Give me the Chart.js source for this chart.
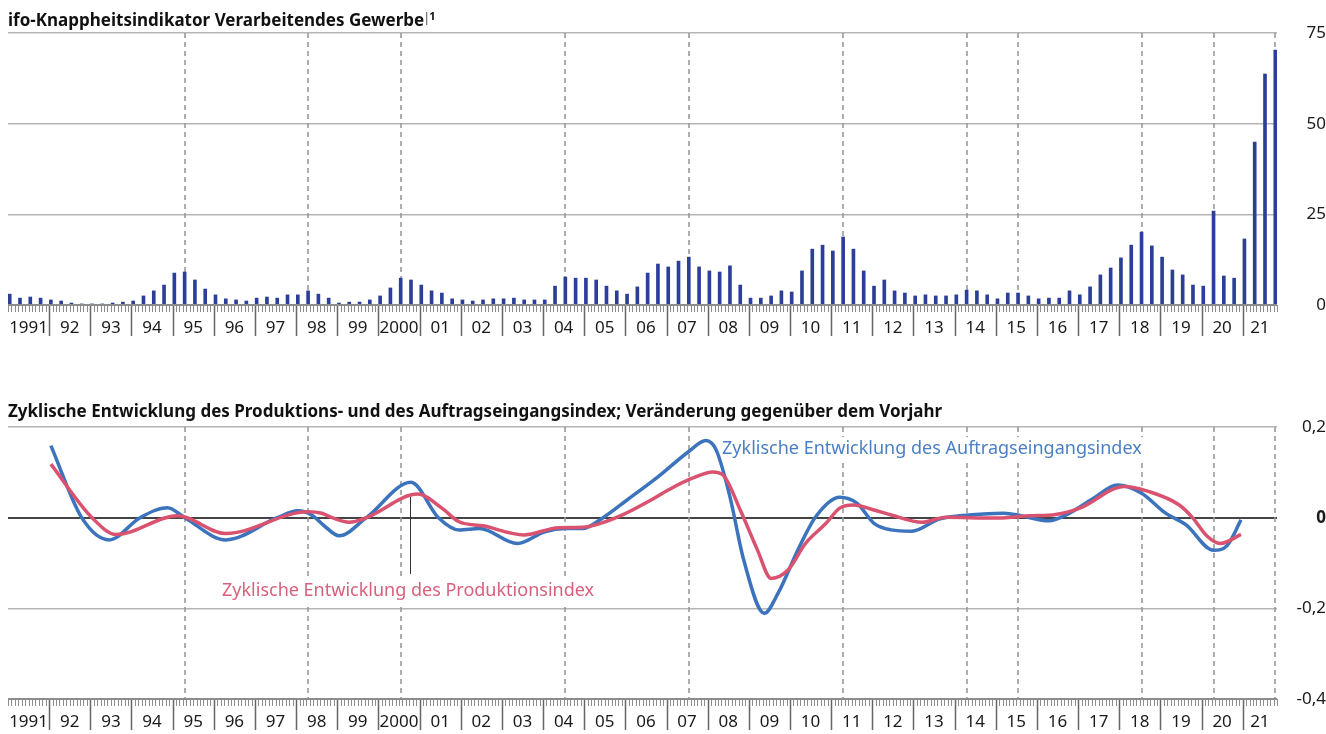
<!DOCTYPE html>
<html lang="de">
<head>
<meta charset="utf-8">
<title>ifo-Knappheitsindikator</title>
<script src="https://cdn.jsdelivr.net/npm/chart.js@4.4.1/dist/chart.umd.min.js"></script>
<style>
  html, body { margin: 0; padding: 0; background: #fff; }
  canvas { display: block; }
</style>
</head>
<body>
<canvas id="top" width="1326" height="345"></canvas>
<canvas id="bottom" width="1326" height="389"></canvas>
<script>
// x axis: months from Jan 1991 to Oct 2021
const firstYear = 1991;
const monthCount = 370;
const yearLabels = ["1991", "92", "93", "94", "95", "96", "97", "98", "99", "2000",
  "01", "02", "03", "04", "05", "06", "07", "08", "09", "10",
  "11", "12", "13", "14", "15", "16", "17", "18", "19", "20", "21"];

// ifo scarcity indicator, quarterly from 1991 Q1 to 2021 Q4
const scarcity = [
  3.0, 1.9, 2.2, 1.9,   1.4, 1.1, 0.55, 0.3,  0.3, 0.3, 0.55, 0.8,  1.1, 2.5, 3.9, 5.5,
  8.8, 9.1, 6.9, 4.4,   2.8, 1.7, 1.4, 1.1,   1.9, 2.2, 1.9, 2.8,   2.8, 3.9, 3.0, 1.9,
  0.55, 0.8, 0.8, 1.4,  2.5, 4.7, 7.4, 6.9,   5.5, 3.9, 3.3, 1.7,   1.4, 1.1, 1.4, 1.7,
  1.7, 1.9, 1.4, 1.4,   1.4, 5.2, 7.7, 7.4,   7.4, 6.9, 5.2, 3.9,   3.0, 5.0, 8.8, 11.3,
  10.5, 12.1, 13.2, 10.5,  9.4, 9.1, 10.8, 5.5,  1.9, 1.9, 2.5, 3.9,  3.6, 9.4, 15.4, 16.5,
  14.9, 18.75, 15.4, 9.4,  5.2, 6.9, 3.9, 3.3,  2.5, 2.8, 2.5, 2.5,  2.8, 4.1, 3.9, 2.8,
  1.7, 3.3, 3.3, 2.5,   1.7, 1.9, 1.9, 3.9,   2.8, 5.0, 8.3, 10.2,  13.0, 16.5, 20.1, 16.3,
  13.2, 9.65, 8.3, 5.5,  5.2, 25.9, 8.0, 7.4,  18.2, 44.9, 63.7, 70.3
];

// dashed vertical lines
const turningPoints = ["1995-04", "1998-04", "2000-07", "2004-07", "2007-07", "2011-04",
  "2014-04", "2015-07", "2018-07", "2020-04", "2021-10"];

// cyclical component of new orders, change on previous year
const ordersDates = ["1992-01", "1992-10", "1993-06", "1994-03", "1994-11", "1995-04", "1996-04",
  "1997-07", "1998-01", "1998-05", "1998-09", "1999-01", "1999-09", "2000-10", "2001-06",
  "2001-12", "2002-06", "2003-05", "2004-01", "2004-07", "2004-12", "2005-06", "2006-01",
  "2006-10", "2007-07", "2007-12", "2008-03", "2008-07", "2008-11", "2009-05", "2009-09",
  "2010-03", "2010-08", "2011-03", "2011-08", "2012-01", "2012-06", "2012-12", "2013-08",
  "2014-02", "2015-03", "2015-08", "2016-04", "2016-10", "2017-05", "2017-12", "2018-07",
  "2019-02", "2019-08", "2020-04", "2020-08", "2020-12"];
const ordersValues = [0.159, 0, -0.049, 0, 0.022, 0, -0.049,
  0, 0.015, 0.006, -0.02, -0.04, 0, 0.078, 0,
  -0.027, -0.024, -0.057, -0.031, -0.024, -0.024, 0, 0.039,
  0.09, 0.146, 0.17, 0.149, 0.046, -0.093, -0.211, -0.167,
  -0.068, 0.002, 0.045, 0.032, -0.0125, -0.027, -0.03, -0.003,
  0.004, 0.01, 0.004, -0.007, 0.01, 0.043, 0.072, 0.054,
  0.01, -0.016, -0.072, -0.061, -0.005];

// cyclical component of production, change on previous year
const productionDates = ["1992-01", "1993-01", "1993-08", "1995-02", "1996-04", "1998-04",
  "1998-08", "1998-11", "1999-04", "1999-09", "2000-12", "2001-07", "2001-12", "2002-07",
  "2003-07", "2004-05", "2004-12", "2005-11", "2006-08", "2007-01", "2007-08", "2008-02",
  "2008-05", "2008-10", "2009-03", "2009-07", "2009-12", "2010-05", "2010-11", "2011-03",
  "2011-07", "2012-01", "2012-06", "2013-03", "2013-10", "2014-12", "2015-10", "2016-06",
  "2017-01", "2018-02", "2018-09", "2019-06", "2019-10", "2020-02", "2020-06", "2020-12"];
const productionValues = [0.118, 0, -0.037, 0.004, -0.035, 0.013,
  0.0096, 0, -0.01, 0, 0.052, 0.021, -0.009, -0.018,
  -0.038, -0.022, -0.021, 0.004, 0.039, 0.061, 0.087, 0.101,
  0.094, 0.017, -0.071, -0.134, -0.115, -0.057, -0.0125, 0.021,
  0.028, 0.017, 0.006, -0.01, 0.001, -0.001, 0.004, 0.007,
  0.021, 0.069, 0.058, 0.028, -0.001, -0.04, -0.057, -0.037];

const FONT = "'Noto Sans', sans-serif";
const BAR_COLOR = "#2b3f98";
const ORDERS_COLOR = "#3b73bd";
const PROD_COLOR = "#d9526f";

// "YYYY-MM" -> middle of that month on the x scale
const toMonth = (d) => {
  const [y, m] = d.split("-").map(Number);
  return (y - firstYear) * 12 + m - 0.5;
};

const isZero = (v) => Math.abs(v) < 1e-9;

// dashed lines behind the data
const dashedLines = {
  id: "dashedLines",
  beforeDatasetsDraw(chart) {
    const { ctx, chartArea: a, scales: { x } } = chart;
    ctx.save();
    ctx.strokeStyle = "#9a9a9a";
    ctx.lineWidth = 1.6;
    ctx.setLineDash([5, 4]);
    turningPoints.forEach((d) => {
      const px = Math.round(x.getPixelForValue(toMonth(d)));
      ctx.beginPath();
      ctx.moveTo(px, a.top);
      ctx.lineTo(px, a.bottom);
      ctx.stroke();
    });
    ctx.restore();
  }
};

// month ticks, year ticks and year labels under each panel
const timeAxis = {
  id: "timeAxis",
  afterDatasetsDraw(chart) {
    const { ctx, chartArea: a, scales: { x } } = chart;
    ctx.save();
    ctx.strokeStyle = "#8c8c8c";
    ctx.lineWidth = 1;
    ctx.beginPath();
    for (let m = 0; m <= monthCount; m++) {
      const px = Math.round(x.getPixelForValue(m)) + 0.5;
      ctx.moveTo(px, a.bottom);
      ctx.lineTo(px, a.bottom + 7);
    }
    ctx.stroke();

    ctx.strokeStyle = "#666";
    ctx.lineWidth = 1.5;
    ctx.beginPath();
    for (let i = 1; i < yearLabels.length; i++) {
      const px = Math.round(x.getPixelForValue(i * 12)) + 0.5;
      ctx.moveTo(px, a.bottom);
      ctx.lineTo(px, a.bottom + 31);
    }
    ctx.stroke();

    ctx.strokeStyle = "#8c8c8c";
    ctx.lineWidth = 2;
    ctx.beginPath();
    ctx.moveTo(a.left, a.bottom);
    ctx.lineTo(a.right, a.bottom);
    ctx.stroke();

    ctx.fillStyle = "#1a1a1a";
    ctx.font = "17px " + FONT;
    ctx.textAlign = "center";
    ctx.textBaseline = "middle";
    yearLabels.forEach((lab, i) => {
      const x0 = x.getPixelForValue(i * 12);
      const x1 = x.getPixelForValue(Math.min((i + 1) * 12, monthCount));
      ctx.fillText(lab, (x0 + x1) / 2, a.bottom + 23);
    });
    ctx.restore();
  }
};

// bold panel title
const panelTitle = {
  id: "panelTitle",
  afterDraw(chart, args, opts) {
    const { ctx } = chart;
    ctx.save();
    ctx.fillStyle = "#111";
    ctx.font = "bold 17px " + FONT;
    ctx.textAlign = "left";
    ctx.textBaseline = "alphabetic";
    ctx.fillText(opts.text, 8, opts.y);
    if (opts.note) {
      const w = ctx.measureText(opts.text).width;
      ctx.strokeStyle = "#555";
      ctx.lineWidth = 1;
      ctx.beginPath();
      ctx.moveTo(8 + w + 2.5, opts.y - 14);
      ctx.lineTo(8 + w + 2.5, opts.y - 1);
      ctx.stroke();
      ctx.font = "bold 11px " + FONT;
      ctx.fillText(opts.note, 8 + w + 5, opts.y - 6);
    }
    ctx.restore();
  }
};

// direct labels of the two lines
const lineLabels = {
  id: "lineLabels",
  beforeDatasetsDraw(chart, args, opts) {
    const { ctx, scales: { x, y } } = chart;
    ctx.save();
    ctx.font = "18px " + FONT;
    ctx.textAlign = "left";
    ctx.textBaseline = "middle";
    opts.items.forEach((it) => {
      const px = x.getPixelForValue(it.month);
      const py = y.getPixelForValue(it.value);
      if (it.leader) {
        ctx.strokeStyle = "#333";
        ctx.lineWidth = 1;
        const lx = Math.round(x.getPixelForValue(it.leader.month)) + 0.5;
        ctx.beginPath();
        ctx.moveTo(lx, y.getPixelForValue(it.leader.from));
        ctx.lineTo(lx, y.getPixelForValue(it.leader.to));
        ctx.stroke();
      }
      const w = ctx.measureText(it.text).width;
      ctx.fillStyle = "#fff";
      ctx.fillRect(px - 2, py - 12, w + 4, 24);
      ctx.fillStyle = it.color;
      ctx.fillText(it.text, px, py);
    });
    ctx.restore();
  }
};

const xScale = { type: "linear", min: 0, max: monthCount, offset: false, display: false };

new Chart(document.getElementById("top"), {
  type: "bar",
  data: {
    datasets: [{
      data: scarcity.map((v, i) => ({ x: i * 3 + 0.5, y: v })),
      backgroundColor: BAR_COLOR,
      barThickness: 3,
      grouped: false
    }]
  },
  options: {
    responsive: false,
    animation: false,
    layout: { padding: { left: 8, top: 33, right: 0, bottom: 40 } },
    scales: {
      x: xScale,
      y: {
        position: "right",
        min: 0,
        max: 75,
        afterFit: (s) => { s.width = 49; },
        ticks: { stepSize: 25, crossAlign: "far", padding: 16, color: "#1a1a1a", font: { family: FONT, size: 17 } },
        grid: { color: "#b5b5b5", lineWidth: 1.5, drawTicks: false },
        border: { display: false }
      }
    },
    plugins: {
      legend: { display: false },
      tooltip: { enabled: false },
      panelTitle: { text: "ifo-Knappheitsindikator Verarbeitendes Gewerbe", note: "1", y: 26 }
    }
  },
  plugins: [dashedLines, timeAxis, panelTitle]
});

new Chart(document.getElementById("bottom"), {
  type: "line",
  data: {
    datasets: [
      {
        label: "Zyklische Entwicklung des Produktionsindex",
        data: productionDates.map((d, i) => ({ x: toMonth(d), y: productionValues[i] })),
        borderColor: PROD_COLOR,
        borderWidth: 3.5,
        order: 0
      },
      {
        label: "Zyklische Entwicklung des Auftragseingangsindex",
        data: ordersDates.map((d, i) => ({ x: toMonth(d), y: ordersValues[i] })),
        borderColor: ORDERS_COLOR,
        borderWidth: 3.5,
        order: 1
      }
    ]
  },
  options: {
    responsive: false,
    animation: false,
    elements: {
      point: { radius: 0 },
      line: { cubicInterpolationMode: "monotone", borderCapStyle: "butt" }
    },
    layout: { padding: { left: 8, top: 82, right: 0, bottom: 35 } },
    scales: {
      x: xScale,
      y: {
        position: "right",
        min: -0.4,
        max: 0.2,
        afterFit: (s) => { s.width = 49; },
        ticks: {
          stepSize: 0.2,
          crossAlign: "far",
          padding: 8,
          color: "#1a1a1a",
          font: (c) => ({ family: FONT, size: 17, weight: c.tick && isZero(c.tick.value) ? "bold" : "normal" }),
          callback: (v) => (isZero(v) ? "0" : v.toFixed(1).replace(".", ","))
        },
        grid: {
          color: (c) => (c.tick && isZero(c.tick.value) ? "#444" : "#b5b5b5"),
          lineWidth: (c) => (c.tick && isZero(c.tick.value) ? 2 : 1.5),
          drawTicks: false
        },
        border: { display: false }
      }
    },
    plugins: {
      legend: { display: false },
      tooltip: { enabled: false },
      panelTitle: { text: "Zyklische Entwicklung des Produktions- und des Auftragseingangsindex; Veränderung gegenüber dem Vorjahr", y: 72 },
      lineLabels: {
        items: [
          { text: "Zyklische Entwicklung des Auftragseingangsindex", color: "#4a7fc4", month: 208.2, value: 0.151 },
          { text: "Zyklische Entwicklung des Produktionsindex", color: "#d9607b", month: 62.4, value: -0.162,
            leader: { month: 117.2, from: 0.046, to: -0.124 } }
        ]
      }
    }
  },
  plugins: [dashedLines, lineLabels, timeAxis, panelTitle]
});
</script>
</body>
</html>
